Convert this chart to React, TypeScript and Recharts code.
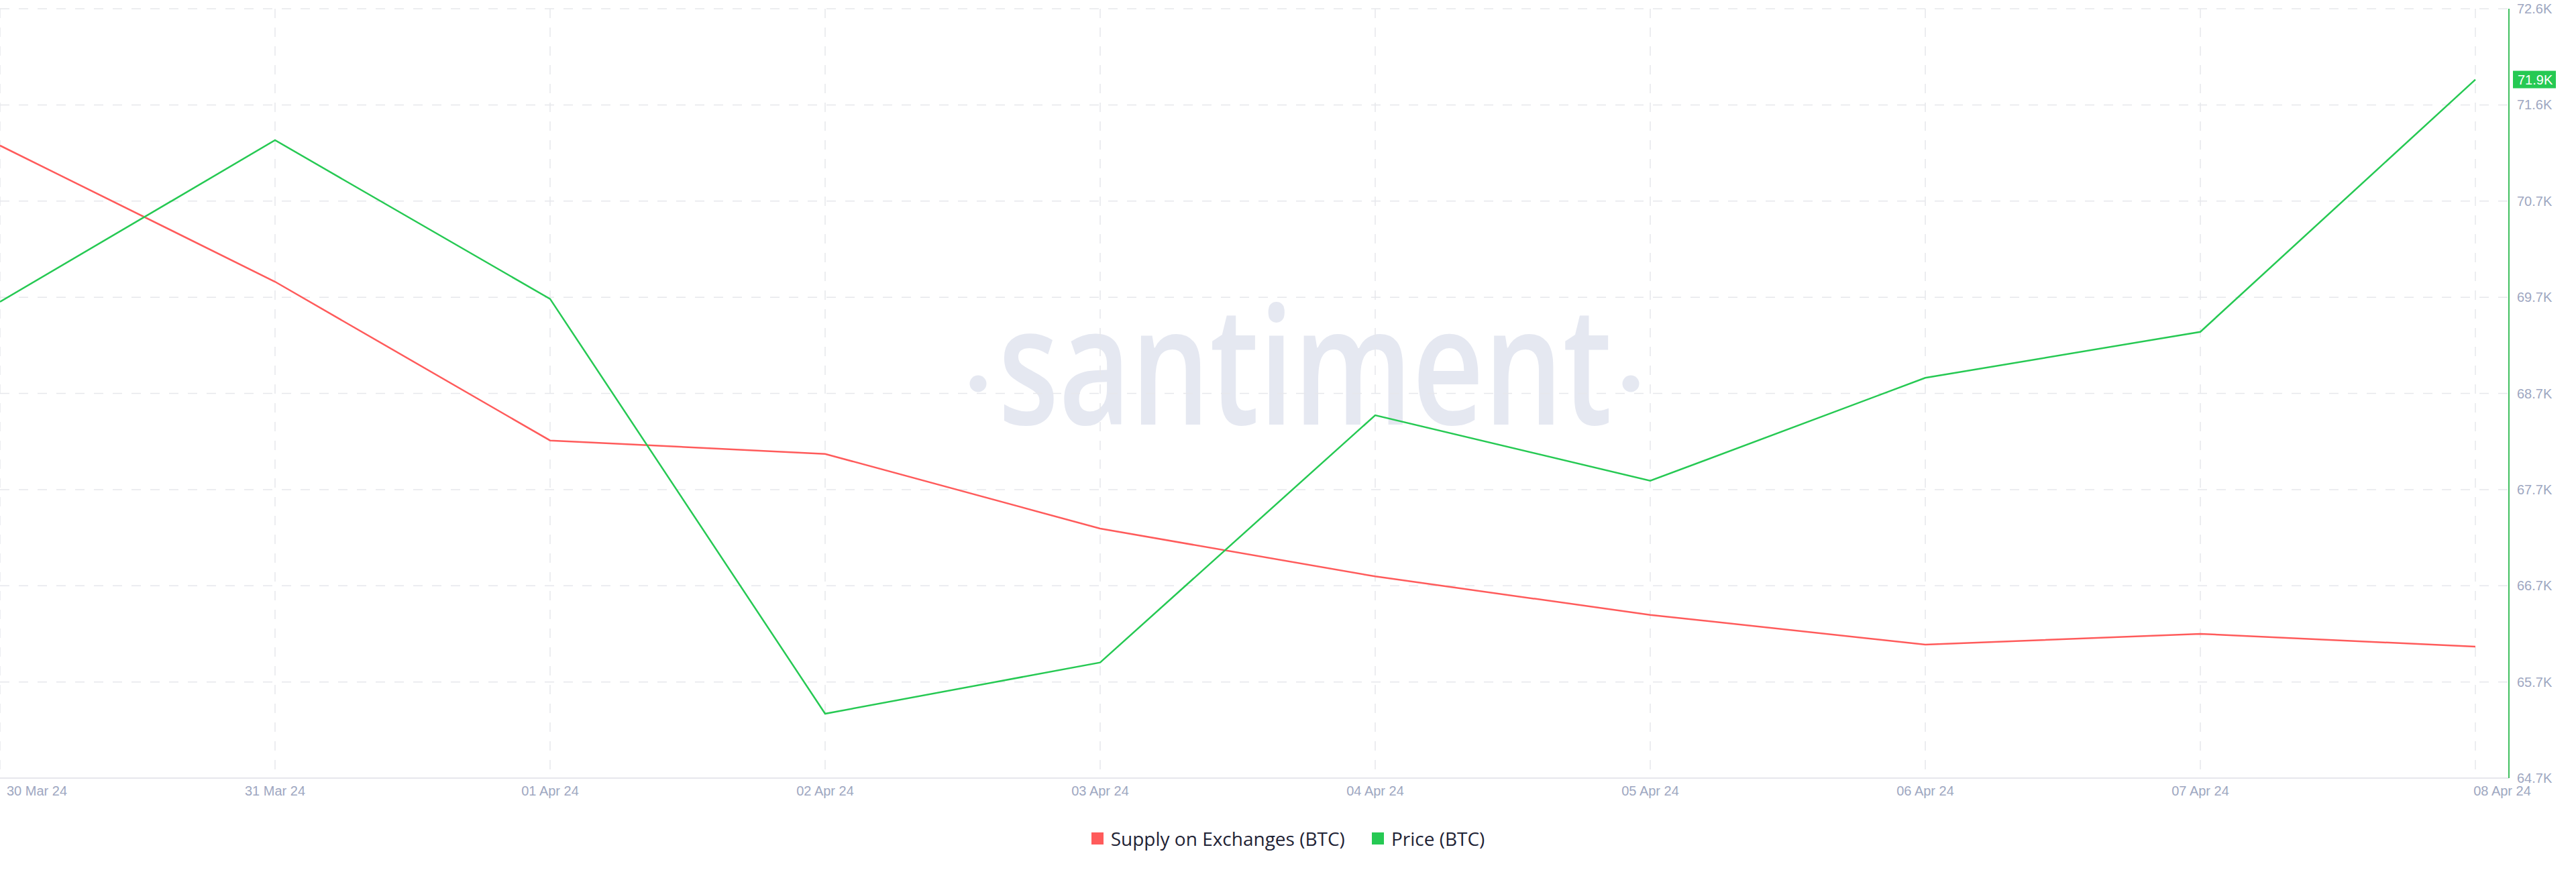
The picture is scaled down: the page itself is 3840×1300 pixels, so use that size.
import React from 'react';
import { LineChart, Line, XAxis, YAxis, CartesianGrid, Legend, ReferenceLine } from 'recharts';

const dates = ['30 Mar 24', '31 Mar 24', '01 Apr 24', '02 Apr 24', '03 Apr 24', '04 Apr 24', '05 Apr 24', '06 Apr 24', '07 Apr 24', '08 Apr 24'];
const supplyOnExchanges = [1956443, 1952903, 1948776, 1948427, 1946486, 1945243, 1944242, 1943470, 1943749, 1943417];
const priceBTC = [69590, 71250, 69620, 65361, 65887, 68426, 67753, 68810, 69282, 71873];

const priceTicks = [64700, 65687.5, 66675, 67662.5, 68650, 69637.5, 70625, 71612.5, 72600];
const priceTickLabels = ['64.7K', '65.7K', '66.7K', '67.7K', '68.7K', '69.7K', '70.7K', '71.6K', '72.6K'];
const priceDomain = [64700, 72600];
const supplyDomain = [1940000, 1960000];
const lastPriceLabel = '71.9K';
const seriesNames = ['Supply on Exchanges (BTC)', 'Price (BTC)'];

const RED = '#ff5b5b';
const GREEN = '#26c953';
const AXIS_TEXT = '#9ea7c1';

const data = dates.map((d, i) => ({ date: d, supply: supplyOnExchanges[i], price: priceBTC[i] }));

const XTick = (props: any) => {
  const { x, y, payload, index } = props;
  const last = index === dates.length - 1;
  let tx = x;
  let anchor: any = 'middle';
  if (index === 0) {
    tx = x + 10;
    anchor = 'start';
  } else if (last) {
    tx = x + 40;
  }
  return (
    <text x={tx} y={y} dy="0.71em" textAnchor={anchor} fill={AXIS_TEXT} fontSize={20} fontFamily="'Liberation Sans', Arial, sans-serif">
      {payload.value}
    </text>
  );
};

const PriceBadge = (props: any) => {
  const vb = props.viewBox || {};
  const bx = vb.x + vb.width + 6;
  const by = vb.y;
  return (
    <g>
      <rect x={bx} y={by - 13} width={64} height={26} fill={GREEN} />
      <text x={bx + 7} y={by} dy="0.355em" fill="#ffffff" fontSize={20} fontFamily="'Liberation Sans', Arial, sans-serif">
        {lastPriceLabel}
      </text>
    </g>
  );
};

const LegendContent = (props: any) => {
  const payload = [...(props.payload || [])].sort(
    (a: any, b: any) => seriesNames.indexOf(a.value) - seriesNames.indexOf(b.value)
  );
  return (
    <div style={{ display: 'flex', justifyContent: 'center', alignItems: 'center', height: 28, fontFamily: "'Open Sans', sans-serif", fontSize: 28, color: '#1f2335' }}>
      {payload.map((p: any, i: number) => (
        <div key={i} style={{ display: 'flex', alignItems: 'center', marginLeft: i === 0 ? 0 : 40 }}>
          <div style={{ width: 18, height: 18, background: p.color, marginRight: 11 }} />
          <span style={{ lineHeight: '28px', whiteSpace: 'nowrap' }}>{p.value}</span>
        </div>
      ))}
    </div>
  );
};

export default function App() {
  return (
    <div style={{ position: 'absolute', left: 0, top: 0, width: 3840, height: 1300, background: '#ffffff', overflow: 'hidden' }}>
      <svg width={3840} height={1300} style={{ position: 'absolute', left: 0, top: 0 }}>
        <circle cx={1458} cy={572} r={12.5} fill="#e5e8f1" />
        <text x={1488} y={633} fontSize={245} fontWeight={600} fontFamily="'Open Sans', sans-serif" textLength={915} lengthAdjust="spacingAndGlyphs" fill="#e5e8f1">
          santiment
        </text>
        <circle cx={2431} cy={572} r={12.5} fill="#e5e8f1" />
      </svg>
      <div style={{ position: 'absolute', left: 0, top: 0 }}>
        <LineChart width={3840} height={1300} data={data} margin={{ top: 13, right: 0, bottom: 36, left: 0 }}>
          <CartesianGrid yAxisId="price" stroke="#e6e7ec" strokeDasharray="14 14" strokeWidth={1.5} />
          <XAxis
            dataKey="date"
            interval={0}
            height={76}
            padding={{ left: 0, right: 50 }}
            tickLine={false}
            tickMargin={6}
            axisLine={{ stroke: '#e6e7ec', strokeWidth: 2 }}
            tick={<XTick />}
          />
          <YAxis yAxisId="supply" hide domain={supplyDomain} />
          <YAxis
            yAxisId="price"
            orientation="right"
            width={100}
            domain={priceDomain}
            ticks={priceTicks}
            interval={0}
            tickLine={false}
            tickMargin={6}
            axisLine={{ stroke: '#3fbf5e', strokeWidth: 2 }}
            tick={{ fill: AXIS_TEXT, fontSize: 20, fontFamily: "'Liberation Sans', Arial, sans-serif" }}
            tickFormatter={(v: number) => priceTickLabels[priceTicks.indexOf(v)] ?? ''}
          />
          <Line yAxisId="supply" type="linear" dataKey="supply" name={seriesNames[0]} stroke={RED} strokeWidth={2.5} dot={false} activeDot={false} isAnimationActive={false} />
          <Line yAxisId="price" type="linear" dataKey="price" name={seriesNames[1]} stroke={GREEN} strokeWidth={2.5} dot={false} activeDot={false} isAnimationActive={false} />
          <ReferenceLine yAxisId="price" y={priceBTC[priceBTC.length - 1]} stroke="none" label={<PriceBadge />} />
          <Legend verticalAlign="bottom" content={<LegendContent />} />
        </LineChart>
      </div>
    </div>
  );
}
